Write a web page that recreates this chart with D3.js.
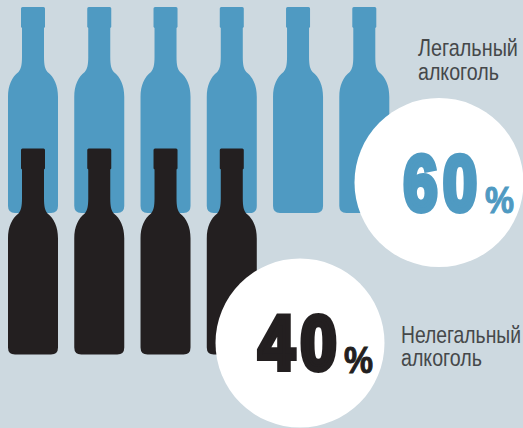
<!DOCTYPE html>
<html>
<head>
<meta charset="utf-8">
<script src="https://cdn.jsdelivr.net/npm/d3@7"></script>
<style>
    html, body { margin: 0; padding: 0; background: #cdd9e0; }
    svg { display: block; }
    .label { font-family: "Liberation Sans Narrow", "Liberation Sans", sans-serif; font-size: 23px; fill: #45484a; }
    .big { font-family: "Liberation Sans Narrow", "Liberation Sans", sans-serif; font-weight: 700; }
</style>
</head>
<body>
<div id="chart"></div>
<script>
// share of the market, one bottle = 10%
const categories = ["Легальный алкоголь", "Нелегальный алкоголь"];
const shares = [60, 40];
const colors = ["#4f9ac2", "#231f20"];
const labelLines = [["Легальный", "алкоголь"], ["Нелегальный", "алкоголь"]];
const perBottle = 10;

const width = 523, height = 428;

const svg = d3.select("#chart").append("svg")
    .attr("width", width)
    .attr("height", height);

svg.append("rect")
    .attr("width", width)
    .attr("height", height)
    .attr("fill", "#cdd9e0");

// bottle column and row positions
const xScale = d3.scaleLinear().domain([0, 5]).range([33, 364.3]);
const yScale = d3.scaleOrdinal().domain(categories).range([7, 148.5]);

// one bottle, x = 0 is the middle, y = 0 is the top of the cap
function bottlePath() {
    const p = d3.path();
    p.moveTo(-10.5, 0);
    p.lineTo(10.5, 0);
    p.quadraticCurveTo(12, 0, 12, 1.5);
    p.lineTo(12, 20);
    p.lineTo(11, 21);
    p.lineTo(11, 50);
    p.bezierCurveTo(11, 58, 12, 62, 14.5, 65);
    p.bezierCurveTo(21, 70, 25, 78, 25, 90);
    p.lineTo(25, 199);
    p.quadraticCurveTo(25, 206, 18, 206);
    p.lineTo(-18, 206);
    p.quadraticCurveTo(-25, 206, -25, 199);
    p.lineTo(-25, 90);
    p.bezierCurveTo(-25, 78, -21, 70, -14.5, 65);
    p.bezierCurveTo(-12, 62, -11, 58, -11, 50);
    p.lineTo(-11, 21);
    p.lineTo(-12, 20);
    p.lineTo(-12, 1.5);
    p.quadraticCurveTo(-12, 0, -10.5, 0);
    p.closePath();
    return p.toString();
}

categories.forEach((c, i) => {
    svg.append("g")
        .attr("class", "bottles")
        .selectAll("path")
        .data(d3.range(shares[i] / perBottle))
        .enter().append("path")
        .attr("d", bottlePath())
        .attr("fill", colors[i])
        .attr("transform", d => `translate(${xScale(d)}, ${yScale(c)})`);
});

// circles with the numbers
const badges = [
    {cx: 439, cy: 182.5, numX: 403.5, numStep: 39.5, numW: 34, numY: 209.5, numSize: 78, pctX: 485, pctY: 213, labelX: 418, labelY: [56, 80], labelW: [100, 81]},
    {cx: 300, cy: 343, numX: 258.5, numStep: 42, numW: 36, numY: 368.5, numSize: 76, pctX: 344, pctY: 373, labelX: 401, labelY: [343, 366], labelW: [120, 81]}
];

badges.forEach((b, i) => {
    svg.append("circle")
        .attr("cx", b.cx)
        .attr("cy", b.cy)
        .attr("r", 84.5)
        .attr("fill", "#ffffff");

    // digits are set one by one so they stay apart when thickened
    String(shares[i]).split("").forEach((digit, k) => {
        svg.append("text")
            .attr("class", "big")
            .attr("x", b.numX + k * b.numStep)
            .attr("y", b.numY)
            .attr("font-size", b.numSize)
            .attr("textLength", b.numW)
            .attr("lengthAdjust", "spacingAndGlyphs")
            .attr("fill", colors[i])
            .attr("stroke", colors[i])
            .attr("stroke-width", 6)
            .text(digit);
    });

    svg.append("text")
        .attr("class", "big")
        .attr("x", b.pctX)
        .attr("y", b.pctY)
        .attr("font-size", 36)
        .attr("textLength", 29)
        .attr("lengthAdjust", "spacingAndGlyphs")
        .attr("fill", colors[i])
        .attr("stroke", colors[i])
        .attr("stroke-width", 1)
        .text("%");

    labelLines[i].forEach((line, j) => {
        const label = svg.append("text")
            .attr("class", "label")
            .text(line);
        // squeeze to the measured width instead of textLength
        const k = b.labelW[j] / label.node().getComputedTextLength();
        label.attr("transform", `translate(${b.labelX}, ${b.labelY[j]}) scale(${k}, 1)`);
    });
});
</script>
</body>
</html>
